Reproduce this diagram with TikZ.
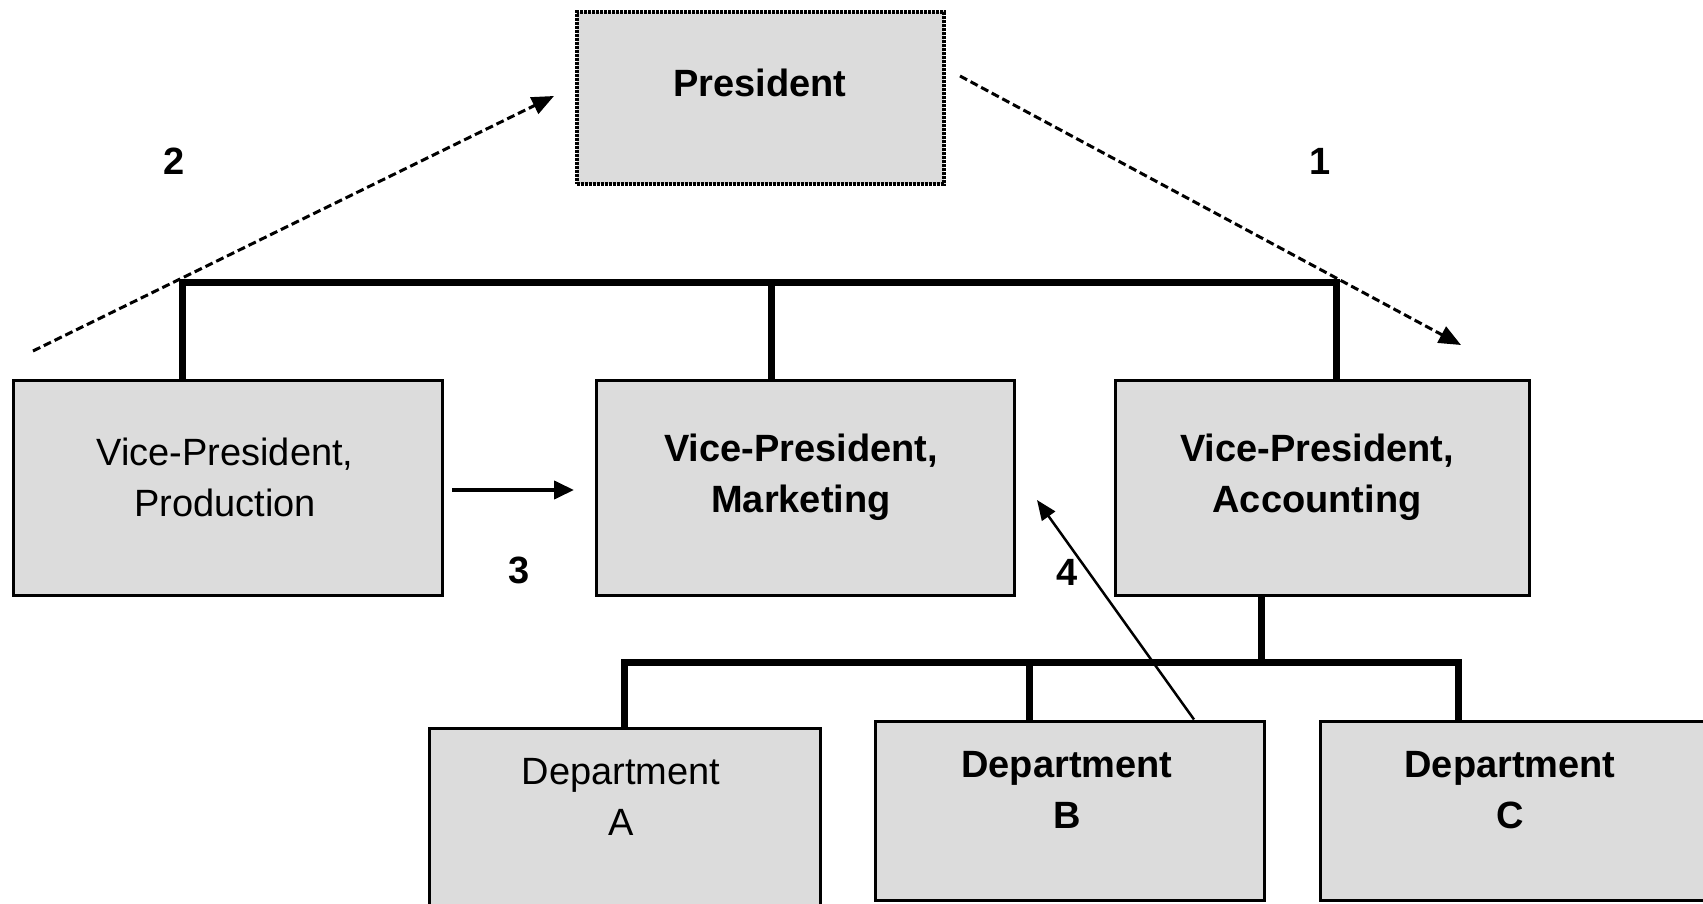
\documentclass[tikz,border=0pt]{standalone}
\usepackage{fontspec}
\setmainfont{Liberation Sans}
\usetikzlibrary{arrows.meta,calc}
\definecolor{boxgray}{RGB}{220,220,220}
\tikzset{
  box/.style={draw=black, fill=boxgray, line width=3pt, rectangle, inner sep=0pt},
  presbox/.style={box, densely dotted, line width=4pt},
  txtb/.style={font=\fontsize{38}{51}\selectfont\bfseries, align=center, inner sep=0pt},
  txtr/.style={font=\fontsize{38}{51}\selectfont, align=center, inner sep=0pt},
  orgline/.style={line width=7pt, black},
  dasharrow/.style={line width=3pt, dash pattern=on 8pt off 4pt, -{Triangle[length=22pt,width=18pt]}},
  solidarrow/.style={line width=4pt, -{Triangle[length=20pt,width=18pt]}},
  thinarrow/.style={line width=2.5pt, -{Triangle[length=20pt,width=16pt]}}
}
\begin{document}
\begin{tikzpicture}[x=1pt,y=-1pt]
\useasboundingbox (0,0) rectangle (1703,904);
% boxes
\node[presbox, minimum width=367pt, minimum height=172pt] (pres) at (760,98) {};
\node[box, minimum width=429pt, minimum height=215pt] (vpp) at (227.5,487.5) {};
\node[box, minimum width=418pt, minimum height=215pt] (vpm) at (805,487.5) {};
\node[box, minimum width=414pt, minimum height=215pt] (vpa) at (1322,487.5) {};
\node[box, minimum width=391pt, minimum height=197pt] (depa) at (624.5,826.5) {};
\node[box, minimum width=389pt, minimum height=179pt] (depb) at (1069.5,810.5) {};
\node[box, minimum width=400pt, minimum height=179pt] (depc) at (1520,810.5) {};
% texts
\node[txtb] (tpres) at (760,83) {President};
\node[txtr] (tvpp) at (225,477) {Vice-President,\\Production};
\node[txtb] (tvpm) at (801,477) {Vice-President,\\Marketing};
\node[txtb] (tvpa) at (1317,477) {Vice-President,\\Accounting};
\node[txtr] (tdepa) at (621,797) {Department\\A};
\node[txtb] (tdepb) at (1067,790) {Department\\B};
\node[txtb] (tdepc) at (1510,790) {Department\\C};
% number labels
\node[txtb] (n1) at (1320,161) {1};
\node[txtb] (n2) at (174,161) {2};
\node[txtb] (n3) at (519,570) {3};
\node[txtb] (n4) at (1067,572) {4};
% org chart lines
\coordinate (bl) at (182,282);
\coordinate (bm) at (771,282);
\coordinate (br) at (1336,282);
\draw[orgline] (bl |- vpp.north) -- (bl) -- (br) -- (br |- vpa.north);
\draw[orgline] (bm) -- (bm |- vpm.north);
\coordinate (la) at (1261,662);
\coordinate (l1) at (624,662);
\coordinate (l2) at (1029,662);
\coordinate (l3) at (1458,662);
\draw[orgline] (la |- vpa.south) -- (la);
\draw[orgline] (l1 |- depa.north) -- (l1) -- (l3) -- (l3 |- depc.north);
\draw[orgline] (l2) -- (l2 |- depb.north);
% arrows
\coordinate (a2s) at (33,351);
\coordinate (a2e) at (554,96);
\draw[dasharrow] (a2s) -- (a2e);
\coordinate (a1s) at (960,76);
\coordinate (a1e) at (1461,345);
\draw[dasharrow] (a1s) -- (a1e);
\coordinate (a3s) at (452,490);
\coordinate (a3e) at (574,490);
\draw[solidarrow] (a3s) -- (a3e);
\coordinate (a4x) at (1194,0);
\coordinate (a4e) at (1037,500);
\draw[thinarrow] (a4x |- depb.north) -- (a4e);
\end{tikzpicture}
\end{document}
